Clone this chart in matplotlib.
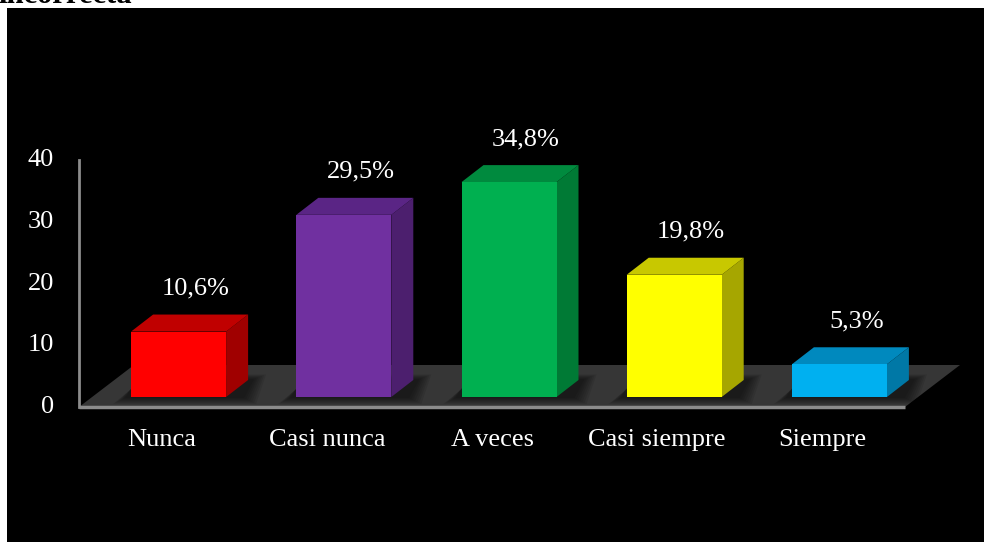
import matplotlib
matplotlib.use("Agg")
import matplotlib.pyplot as plt
from matplotlib.patches import Polygon, Rectangle
import numpy as np

categories = ["Nunca", "Casi nunca", "A veces", "Casi siempre", "Siempre"]
values = [10.6, 29.5, 34.8, 19.8, 5.3]
value_labels = ["10,6%", "29,5%", "34,8%", "19,8%", "5,3%"]
yticks = [0, 10, 20, 30, 40]

front_colors = ["#FF0000", "#7030A0", "#00B050", "#FFFF00", "#00B0F0"]
top_colors = ["#C00000", "#5A2585", "#008A3E", "#C8C800", "#0089BE"]
side_colors = ["#A00000", "#4C1F6E", "#007A35", "#A6A600", "#0078A6"]

W, H, DPI = 984, 542, 100
fig = plt.figure(figsize=(W / DPI, H / DPI), dpi=DPI, facecolor="white")

# black panel
fig.patches.append(Rectangle((7 / W, 0), 1 - 7 / W, (H - 8) / H,
                             transform=fig.transFigure, facecolor="black",
                             edgecolor="none", zorder=-5))
fig.text(-0.002, 1 - 3 / H, "incorrecta", fontsize=22, fontweight="bold",
         family="Liberation Serif", color="black", ha="left", va="baseline")

# plotting area in pixel geometry
x_left, x_right = 79, 905
y_zero, y_top = 407, 160
ax = fig.add_axes([x_left / W, (H - y_zero) / H,
                   (x_right - x_left) / W, (y_zero - y_top) / H])
ax.set_xlim(-0.5, len(categories) - 0.5)
ax.set_ylim(0, 40)
ax.set_facecolor("none")
for s in ax.spines.values():
    s.set_visible(False)
ax.set_xticks([])
ax.set_yticks([])

px_x = (len(categories)) / (x_right - x_left)  # data units per pixel (x)
px_y = 40 / (y_zero - y_top)                    # data units per pixel (y)

# floor
fdx, fdy = 55 * px_x, 42 * px_y
x0, x1 = -0.5, len(categories) - 0.5
floor = Polygon([(x0, 0), (x1, 0), (x1 + fdx, fdy), (x0 + fdx, fdy)],
                closed=True, facecolor="#363636", edgecolor="none",
                clip_on=False, zorder=1)
ax.add_patch(floor)
ax.plot([x0, x1], [0, 0], color="#8C8C8C", lw=2.5, clip_on=False,
        solid_capstyle="butt", zorder=2)
ax.plot([x0, x0], [0, 40], color="#8C8C8C", lw=2, clip_on=False, zorder=2)

FONT = dict(color="white", fontsize=19, family="Liberation Serif")

# bars
bw = 95 * px_x
sx, sy = 17 * px_x, 10 * px_y      # shift of bar front plane
ddx, ddy = 22 * px_x, 17 * px_y    # bar depth
for i, v in enumerate(values):
    cx = i + sx
    l, r = cx - bw / 2, cx + bw / 2
    b, t = sy, sy + v
    # soft shadow on the floor
    for g in range(14, 0, -2):
        sh = Polygon([(l - (g + 4) * px_x, b - (g * 0.5) * px_y),
                      (r + ddx + (g - 6) * px_x, b - (g * 0.5) * px_y),
                      (r + ddx + (g + 4) * px_x, b + (ddy / px_y + g * 0.4) * px_y),
                      (l + (g + 4) * px_x, b + (ddy / px_y + g * 0.4) * px_y)],
                     closed=True, facecolor="black", alpha=0.09,
                     edgecolor="none", clip_on=False, zorder=3)
        ax.add_patch(sh)
    side = Polygon([(r, b), (r + ddx, b + ddy), (r + ddx, t + ddy), (r, t)],
                   closed=True, facecolor=side_colors[i], edgecolor="none",
                   clip_on=False, zorder=4)
    top = Polygon([(l, t), (r, t), (r + ddx, t + ddy), (l + ddx, t + ddy)],
                  closed=True, facecolor=top_colors[i], edgecolor="none",
                  clip_on=False, zorder=4)
    front = Rectangle((l, b), bw, v, facecolor=front_colors[i],
                      edgecolor="none", clip_on=False, zorder=5)
    ax.add_patch(side)
    ax.add_patch(top)
    ax.add_patch(front)
    ax.text(cx + 17 * px_x, t + ddy + 20 * px_y, value_labels[i],
            ha="center", va="baseline", zorder=6, **FONT)

# axis labels
for i, c in enumerate(categories):
    ax.text(i, -33 * px_y, c, ha="center", va="center", **FONT)
for v in yticks:
    ax.text(-0.5 - 25 * px_x, v, str(v), ha="right", va="center", **FONT)

fig.savefig("out.png", dpi=DPI, facecolor="white")
